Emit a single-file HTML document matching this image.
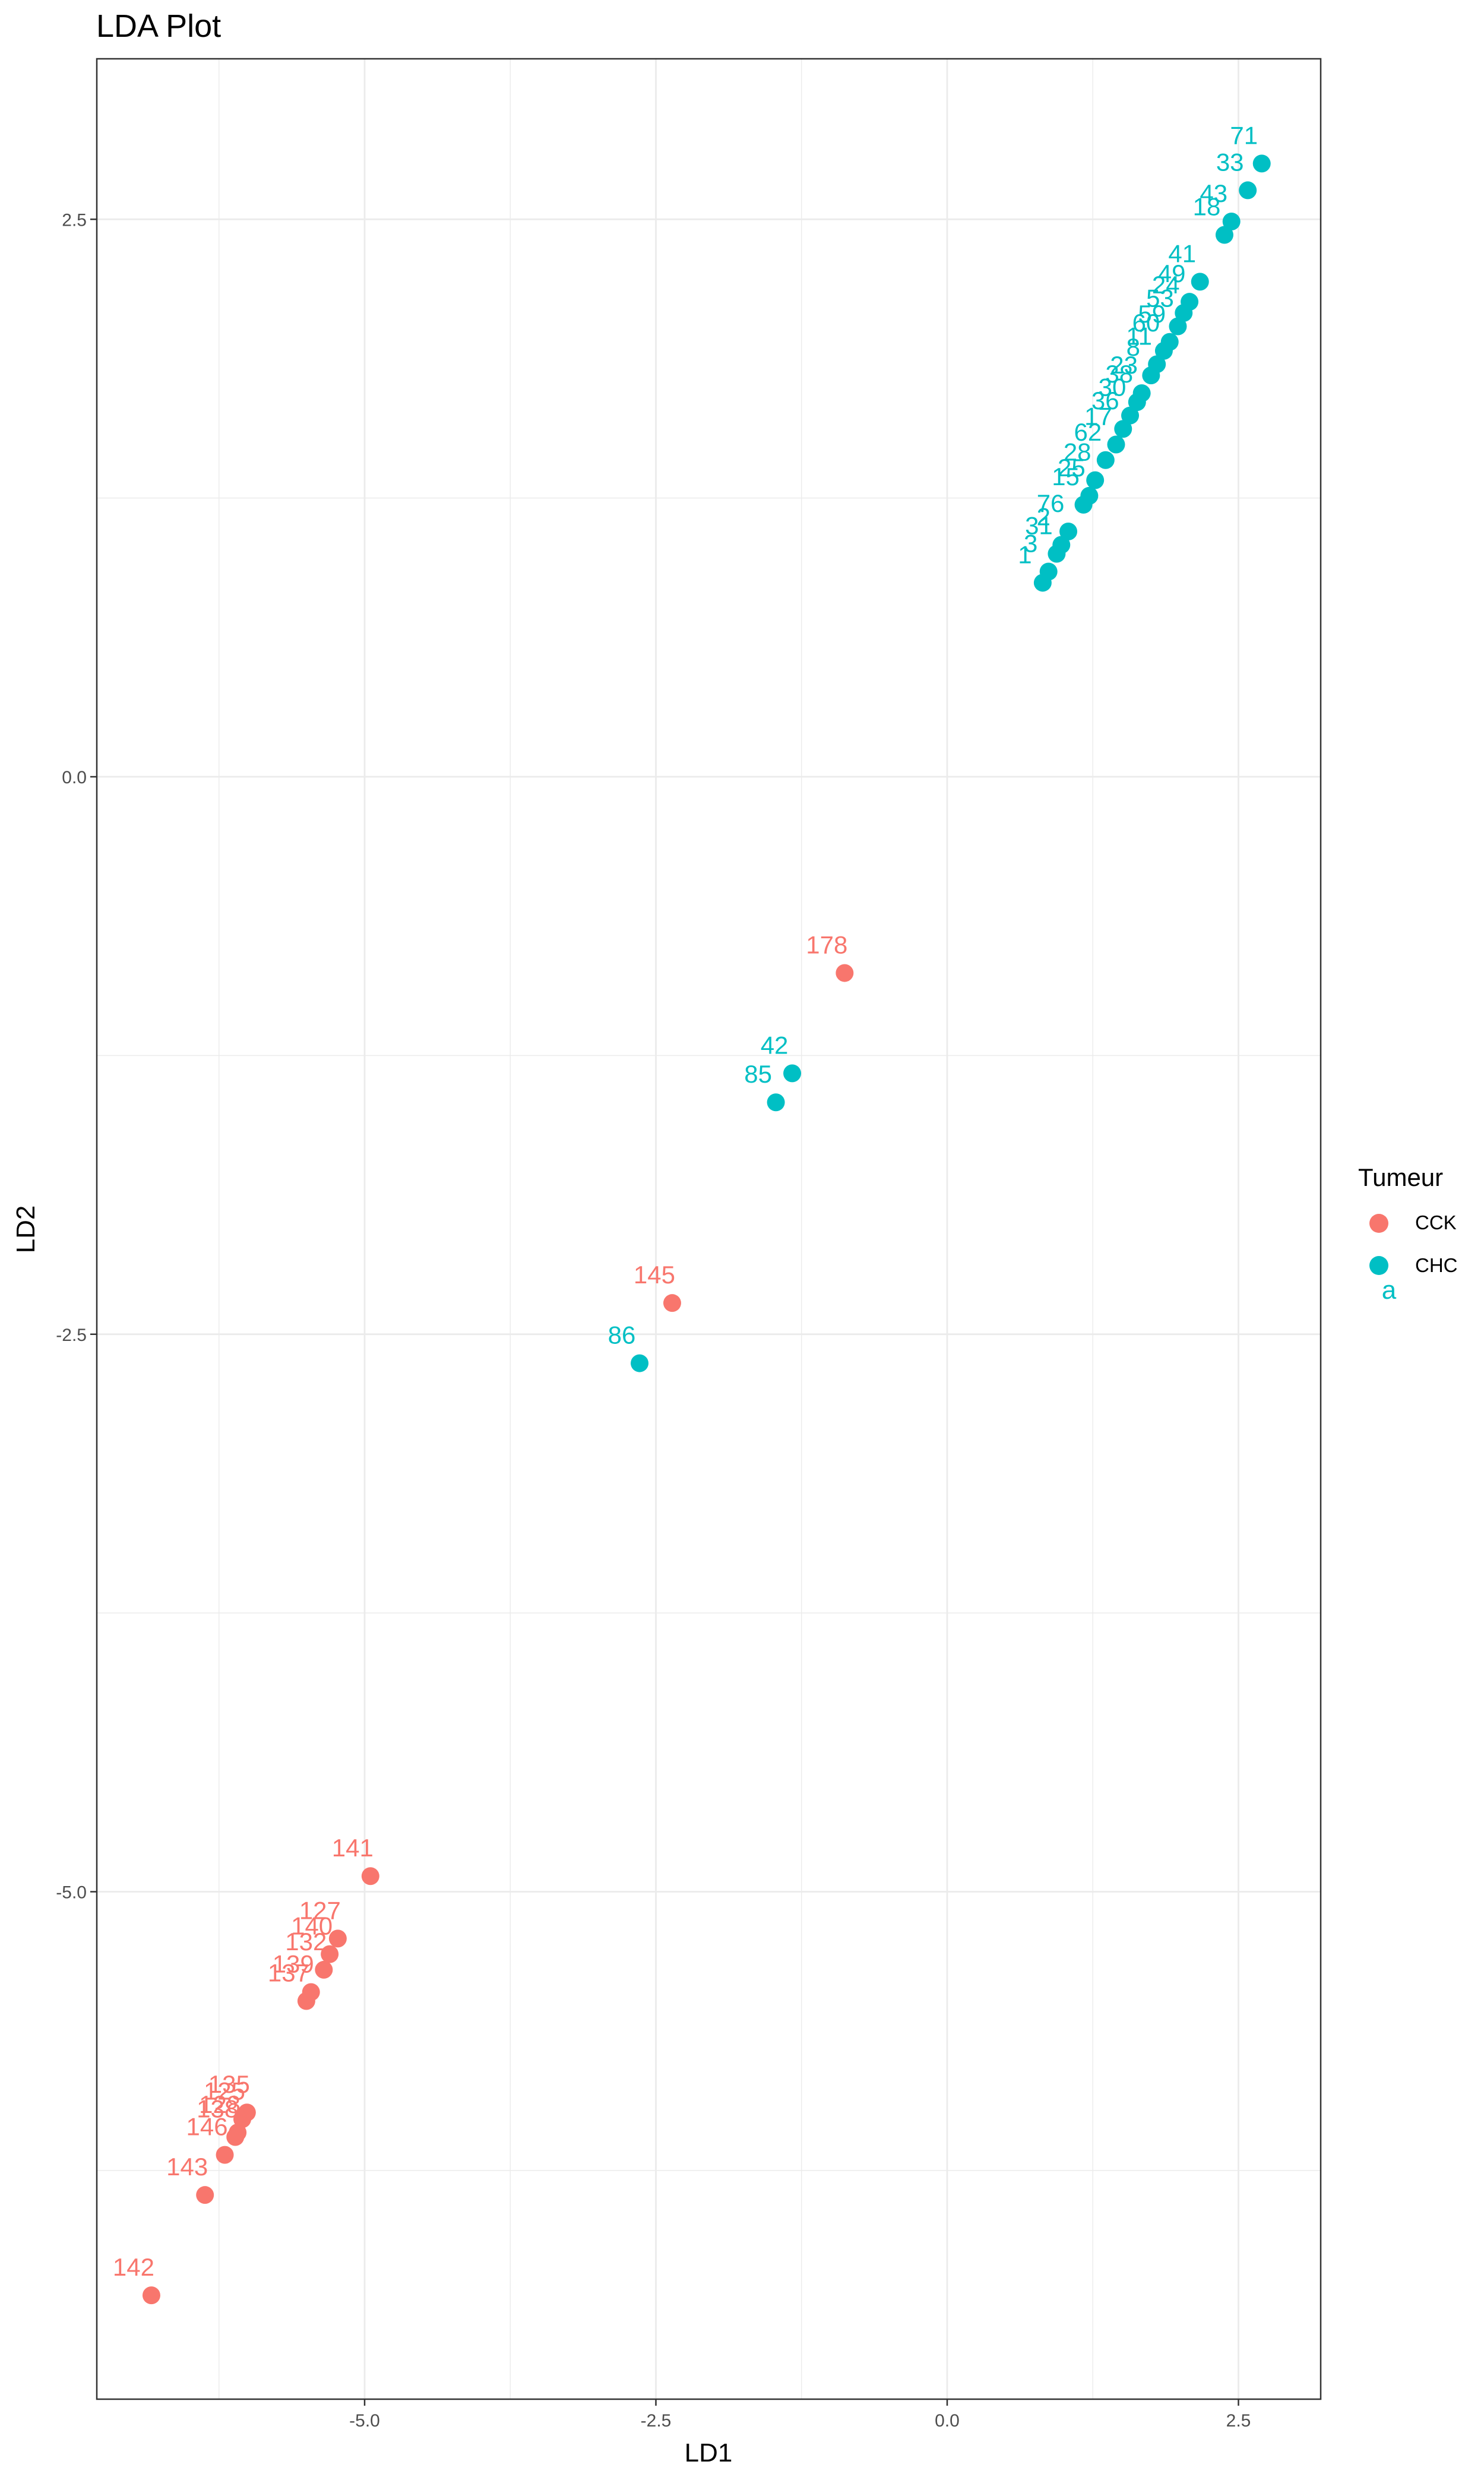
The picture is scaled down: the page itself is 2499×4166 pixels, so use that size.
<!DOCTYPE html>
<html><head><meta charset="utf-8"><style>
html,body{margin:0;padding:0;background:#fff}
svg{display:block;font-family:"Liberation Sans",Arial,sans-serif}
</style></head><body>
<svg id="chart" width="2499" height="4166" viewBox="0 0 2499 4166" xmlns="http://www.w3.org/2000/svg">
<rect x="0" y="0" width="2499" height="4166" fill="#fff"/>
<text x="162" y="62" font-size="54" fill="#000">LDA Plot</text>
<g id="grid"></g>
<g id="marks"></g>
<g id="labels"></g>
<rect x="163" y="99" width="2061" height="3941" fill="none" stroke="#333" stroke-width="2.5"/>
<g id="axes"></g>
<text x="1193" y="4145" font-size="44" text-anchor="middle" fill="#000">LD1</text>
<text transform="translate(58,2070) rotate(-90)" font-size="44" text-anchor="middle" fill="#000">LD2</text>
<g>
<text x="2287" y="1997" font-size="42" fill="#000">Tumeur</text>
<circle cx="2322" cy="2060" r="16" fill="#F8766D"/>
<text x="2383" y="2070" font-size="33" fill="#000">CCK</text>
<circle cx="2322" cy="2131" r="16" fill="#00BFC4"/>
<text x="2383" y="2142" font-size="33" fill="#000">CHC</text>
<text x="2339" y="2187" font-size="44" text-anchor="middle" fill="#00BFC4">a</text>
</g>
</svg>
<script>
const xTicks = [-5.0, -2.5, 0.0, 2.5];
const yTicks = [2.5, 0.0, -2.5, -5.0];
const xMinor = [-6.25, -3.75, -1.25, 1.25];
const yMinor = [1.25, -1.25, -3.75, -6.25];
const tickLabelsX = ["-5.0", "-2.5", "0.0", "2.5"];
const tickLabelsY = ["2.5", "0.0", "-2.5", "-5.0"];
const chcLD1 = [2.70,2.58,2.44,2.38,2.17,2.08,2.03,1.98,1.91,1.86,1.80,1.75,1.67,1.63,1.57,1.51,1.45,1.36,1.27,1.22,1.17,1.04,0.98,0.94,0.87,0.82,-1.33,-1.47,-2.64];
const chcLD2 = [2.75,2.63,2.49,2.43,2.22,2.13,2.08,2.02,1.95,1.91,1.85,1.80,1.72,1.68,1.62,1.56,1.49,1.42,1.33,1.26,1.22,1.10,1.04,1.00,0.92,0.87,-1.33,-1.46,-2.63];
const chcNames = ["71","33","43","18","41","49","24","53","59","60","11","8","23","38","30","36","17","62","28","25","15","76","2","31","3","1","42","85","86"];
const cckLD1 = [-0.88,-2.36,-4.95,-5.23,-5.30,-5.35,-5.46,-5.50,-6.01,-6.05,-6.09,-6.11,-6.20,-6.37,-6.83];
const cckLD2 = [-0.88,-2.36,-4.93,-5.21,-5.28,-5.35,-5.45,-5.49,-5.99,-6.02,-6.08,-6.10,-6.18,-6.36,-6.81];
const cckNames = ["178","145","141","127","140","132","139","137","135","125","128","138","146","143","142"];

const NS = "http://www.w3.org/2000/svg";
const X0 = 1595, XS = 196.2, Y0 = 1308, YS = 375.5;
const L = 163, R = 2224, T = 99, B = 4040;
function xs(v){ return X0 + v*XS; }
function ys(v){ return Y0 - v*YS; }
function mk(tag, attrs, parent){ const e=document.createElementNS(NS,tag); for(const k in attrs) e.setAttribute(k,attrs[k]); parent.appendChild(e); return e; }

const grid = document.getElementById('grid');
xMinor.forEach(v=>{ const l=mk('line',{x1:xs(v),x2:xs(v),y1:T,y2:B,stroke:'#ebebeb','stroke-width':1.4},grid);

 });
yMinor.forEach(v=>{ const l=mk('line',{x1:L,x2:R,y1:ys(v),y2:ys(v),stroke:'#ebebeb','stroke-width':1.4},grid);

 });
xTicks.forEach(v=>{ const l=mk('line',{x1:xs(v),x2:xs(v),y1:T,y2:B,stroke:'#ebebeb','stroke-width':2.8},grid);

 });
yTicks.forEach(v=>{ const l=mk('line',{x1:L,x2:R,y1:ys(v),y2:ys(v),stroke:'#ebebeb','stroke-width':2.8},grid);

 });

const axes = document.getElementById('axes');
xTicks.forEach((v,i)=>{
  const t=mk('line',{x1:xs(v),x2:xs(v),y1:B,y2:B+11,stroke:'#333','stroke-width':2.5},axes);
  
  
  const s=mk('text',{x:xs(v),y:B+46,'font-size':30,'text-anchor':'middle',fill:'#4d4d4d'},axes);
  s.textContent=tickLabelsX[i];
  
  
});
yTicks.forEach((v,i)=>{
  const t=mk('line',{x1:L-11,x2:L,y1:ys(v),y2:ys(v),stroke:'#333','stroke-width':2.5},axes);
  
  
  const s=mk('text',{x:L-17,y:ys(v)+11,'font-size':30,'text-anchor':'end',fill:'#4d4d4d'},axes);
  s.textContent=tickLabelsY[i];
  
  
});

const marks = document.getElementById('marks');
const labels = document.getElementById('labels');
function drawSeries(xa, ya, names, color, nm){
  xa.forEach((v,i)=>{
    const c=mk('circle',{cx:xs(v),cy:ys(ya[i]),r:15,fill:color},marks);
    
    
  });
  xa.forEach((v,i)=>{
    const t=mk('text',{x:xs(v)-30,y:ys(ya[i])-33,'font-size':42,'text-anchor':'middle',fill:color},labels);
    t.textContent=names[i];
    
    
  });
}
drawSeries(cckLD1, cckLD2, cckNames, '#F8766D', 'cck');
drawSeries(chcLD1, chcLD2, chcNames, '#00BFC4', 'chc');
</script>
</body></html>
